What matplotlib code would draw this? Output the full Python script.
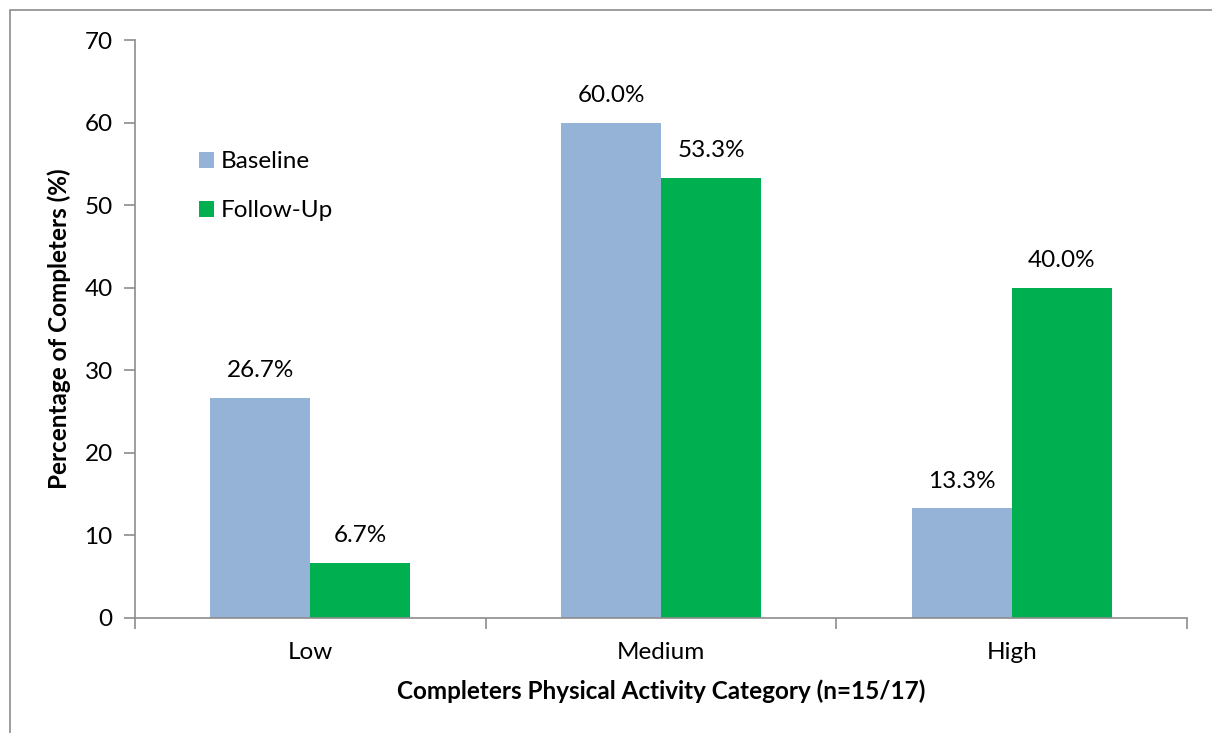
import matplotlib
matplotlib.use("Agg")
import matplotlib.pyplot as plt
from matplotlib.patches import Rectangle
import numpy as np

categories = ["Low", "Medium", "High"]
baseline = [26.7, 60.0, 13.3]
follow_up = [6.7, 53.3, 40.0]
series_names = ["Baseline", "Follow-Up"]
colors = ["#95B3D7", "#00B050"]

plt.rcParams["font.family"] = ["Lato", "DejaVu Sans"]
fs = 17.5

fig = plt.figure(figsize=(12.12, 7.33), dpi=100)
ax = fig.add_axes([135/1212, 1-618/733, (1187-135)/1212, (618-40)/733])

# outer chart border like the spreadsheet chart area
fig.patches.append(Rectangle((10/1212, -0.01), 1.2, 1-10/733+0.01,
                             transform=fig.transFigure, fill=False,
                             edgecolor="#8c8c8c", linewidth=1.2))

x = np.arange(len(categories))
w = 0.285
b1 = ax.bar(x - w/2, baseline, w, color=colors[0], label=series_names[0])
b2 = ax.bar(x + w/2, follow_up, w, color=colors[1], label=series_names[1])

for bars, vals in ((b1, baseline), (b2, follow_up)):
    for bar, v in zip(bars, vals):
        ax.text(bar.get_x() + bar.get_width()/2, v + 2.0, "%.1f%%" % v,
                ha="center", va="bottom", fontsize=fs)

ax.set_xlim(-0.5, 2.5)
ax.set_ylim(0, 70)
ax.set_yticks(range(0, 71, 10))
ax.set_xticks(x)
ax.set_xticklabels(categories)
ax.set_xticks([-0.5, 0.5, 1.5, 2.5], minor=True)
ax.tick_params(axis="x", which="major", length=0, pad=17, labelsize=fs)
ax.tick_params(axis="x", which="minor", length=8, width=1.2, color="#8c8c8c")
ax.tick_params(axis="y", length=8, width=1.2, color="#8c8c8c", pad=8,
               labelsize=fs)

for s in ("top", "right"):
    ax.spines[s].set_visible(False)
for s in ("left", "bottom"):
    ax.spines[s].set_color("#8c8c8c")
    ax.spines[s].set_linewidth(1.2)

ax.set_xlabel("Completers Physical Activity Category (n=15/17)",
              fontsize=fs, fontweight="bold", labelpad=12)
ax.set_ylabel("Percentage of Completers (%)", fontsize=fs,
              fontweight="bold", labelpad=10)

ax.legend(loc="upper left", bbox_to_anchor=(0.04, 0.845), frameon=False,
          fontsize=fs, handlelength=0.6, handleheight=0.6,
          handletextpad=0.3, labelspacing=1.15)

fig.savefig("out.png", dpi=100)
